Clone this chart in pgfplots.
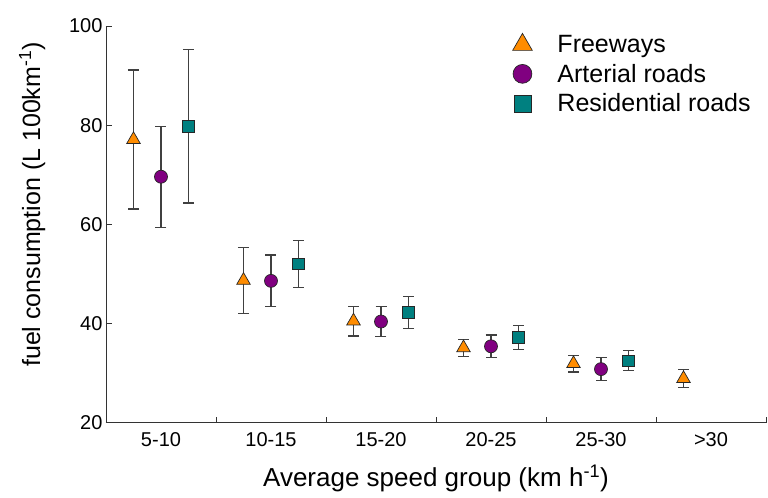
\documentclass[border=0pt]{standalone}
\usepackage{fontspec}
\setmainfont{Liberation Sans}
\usepackage{pgfplots}
\pgfplotsset{compat=1.18}
\usepackage{pgfplotstable}
\definecolor{fwyorange}{HTML}{FF8C00}
\definecolor{artpurple}{HTML}{800080}
\definecolor{resteal}{HTML}{008080}

% x = category index (0 = 5-10 ... 5 = >30) shifted per road type
\pgfplotstableread{
x     y     e
-0.25 77.1  14.0
0.75  48.7  6.7
1.75  40.5  3.0
2.75  35.1  1.7
3.75  31.9  1.7
4.75  28.9  1.8
}\freeways
\pgfplotstableread{
x     y     e
0     69.6  10.2
1     48.6  5.2
2     40.4  3.0
3     35.4  2.3
4     30.8  2.3
}\arterial
\pgfplotstableread{
x     y     e
0.25  79.8  15.5
1.25  52.0  4.7
2.25  42.2  3.2
3.25  37.2  2.4
4.25  32.5  2.0
}\residential

\begin{document}
\begin{tikzpicture}
\begin{axis}[
  name=ax,
  scale only axis, width=660pt, height=396.7pt,
  xmin=-0.5, xmax=5.5, ymin=20, ymax=100,
  axis x line*=bottom, axis y line*=left,
  axis line style={line width=0.9pt, black!80},
  tick align=inside,
  major tick length=6pt,
  tick style={line width=0.9pt, black!80},
  xtick={0.5,1.5,...,5.5}, xticklabel={\mbox{}},
  extra x ticks={0,1,2,3,4,5},
  extra x tick labels={5-10,10-15,15-20,20-25,25-30,{>30}},
  extra x tick style={major tick length=0pt},
  ytick={20,40,60,80,100},
  /pgf/number format/assume math mode=true,
  tick label style={font=\fontsize{20}{24}\selectfont},
  xticklabel style={yshift=-6pt},
  xlabel={Average speed group (km h\textsuperscript{-1})},
  ylabel={fuel consumption (L 100km\textsuperscript{-1})},
  xlabel style={font=\fontsize{26}{30}\selectfont},
  ylabel style={font=\fontsize{25}{29}\selectfont, at={(ticklabel cs:0.55)}},
  xlabel shift=12pt, ylabel shift=17pt,
  legend style={draw=none, fill=none, at={(0.608,0.987)}, anchor=north west,
    font=\fontsize{25}{29}\selectfont, row sep=6pt},
  legend cell align=left,
  legend image code/.code={\path[draw=none, fill=none] (0pt,-6pt) rectangle (45pt,6pt);
    \draw[#1, every mark/.append style={scale=1.45}] plot coordinates {(12pt,0pt)};},
  clip=false,
]
\addplot[only marks, mark=triangle*, mark size=7.8pt,
  mark options={fill=fwyorange, draw=black!85, line width=0.7pt},
  error bars/.cd, y dir=both, y explicit,
  error bar style={line width=1.3pt, black!75},
  error mark options={rotate=90, mark size=5.5pt, line width=1.3pt, black!75}]
  table[x=x, y=y, y error=e] {\freeways};
\addlegendentry{Freeways}
\addplot[only marks, mark=*, mark size=6.5pt,
  mark options={fill=artpurple, draw=black!85, line width=0.7pt},
  error bars/.cd, y dir=both, y explicit,
  error bar style={line width=1.3pt, black!75},
  error mark options={rotate=90, mark size=5.5pt, line width=1.3pt, black!75}]
  table[x=x, y=y, y error=e] {\arterial};
\addlegendentry{Arterial roads}
\addplot[only marks, mark=square*, mark size=5.8pt,
  mark options={fill=resteal, draw=black!85, line width=0.7pt},
  error bars/.cd, y dir=both, y explicit,
  error bar style={line width=1.3pt, black!75},
  error mark options={rotate=90, mark size=5.5pt, line width=1.3pt, black!75}]
  table[x=x, y=y, y error=e] {\residential};
\addlegendentry{Residential roads}
\end{axis}
\pgfresetboundingbox
\path[use as bounding box] ([shift={(-106pt,-75.3pt)}]ax.south west)
  rectangle ([shift={(2pt,26pt)}]ax.north east);
\end{tikzpicture}
\end{document}
